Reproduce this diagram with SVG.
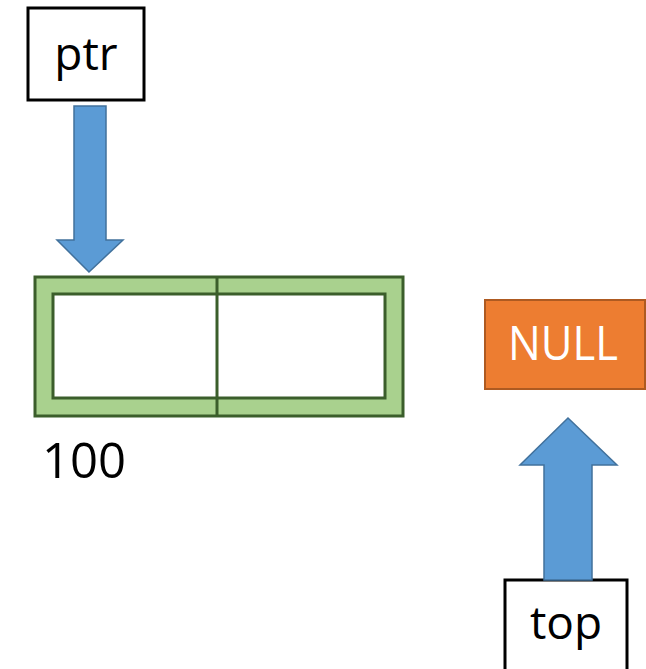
<svg xmlns="http://www.w3.org/2000/svg" width="646" height="669" viewBox="0 0 646 669">
<style>
.lbl{font-family:"Open Sans","Liberation Sans",sans-serif;font-size:46px;fill:#000}
.box{fill:#fff;stroke:#000;stroke-width:3}
.arrow{fill:#5b9bd5;stroke:#41719c;stroke-width:1.5}
</style>
<rect width="646" height="669" fill="#fff"/>
<g id="ptr">
<rect class="box" x="28" y="8" width="116" height="92"/>
<text class="lbl" x="86" y="70" text-anchor="middle">ptr</text>
</g>
<g id="node100">
<rect x="35" y="277" width="368" height="139" fill="#a9d18e" stroke="#3b5e2b" stroke-width="3"/>
<rect x="53" y="294" width="332" height="104" fill="#fff" stroke="#3b5e2b" stroke-width="3"/>
<line x1="217" y1="277" x2="217" y2="416" stroke="#3b5e2b" stroke-width="3"/>
<text class="lbl" x="42" y="478" style="font-size:49px">100</text>
</g>
<g id="null">
<rect x="485" y="300" width="160" height="89" fill="#ed7d31" stroke="#ae5a21" stroke-width="2"/>
<text class="lbl" x="563" y="360" text-anchor="middle" style="fill:#fff;font-size:47px" textLength="110" lengthAdjust="spacingAndGlyphs">NULL</text>
</g>
<g id="top">
<rect class="box" x="505" y="580" width="122" height="100"/>
<text class="lbl" x="566" y="639" text-anchor="middle">top</text>
</g>
<g id="connectors">
<polygon class="arrow" points="74,106 106,106 106,240 123,240 89,272 57,240 74,240"/>
<polygon class="arrow" points="544,580 592,580 592,465 617,465 568,418 520,465 544,465"/>
</g>
</svg>
